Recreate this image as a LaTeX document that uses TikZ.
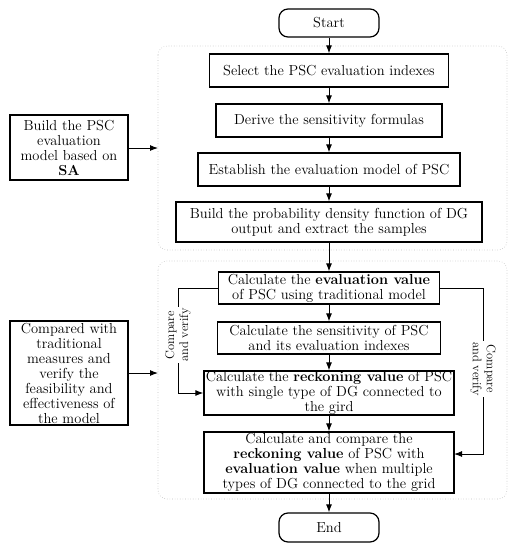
\documentclass[tikz,border=0pt]{standalone}
\usetikzlibrary{arrows.meta}
\begin{document}
\begin{tikzpicture}[x=1pt,y=-1pt,
  every node/.style={font=\fontsize{14.5}{15}\selectfont, align=center, inner sep=0pt},
  proc/.style={draw, line width=1.2pt, fill=white},
  term/.style={draw, line width=1.2pt, rounded corners=9pt, minimum width=100pt},
  grp/.style={draw=gray!50, dotted, line width=0.6pt, rounded corners=9pt},
  arr/.style={line width=1pt, -{Latex[length=8pt,width=6pt]}},
  lbl/.style={fill=white, font=\fontsize{12.5}{14}\selectfont, inner sep=1pt}]
\useasboundingbox (0,0) rectangle (515,550);
% containers
\draw[grp] (158,46) rectangle (507,250);
\draw[grp] (158,261) rectangle (507,499);
% terminals
\node[term, minimum height=28pt] (start) at (329,23) {Start};
\node[term, minimum height=29pt] (end) at (329,527.5) {End};
% upper group
\node[proc, minimum width=239pt, minimum height=33pt] (b1) at (329,70.5) {Select the PSC evaluation indexes};
\node[proc, minimum width=226pt, minimum height=33pt] (b2) at (329,120.5) {Derive the sensitivity formulas};
\node[proc, minimum width=262pt, minimum height=33pt] (b3) at (329,169.5) {Establish the evaluation model of PSC};
\node[proc, minimum width=306pt, minimum height=40pt] (b4) at (329,222) {Build the probability density function of DG\\output and extract the samples};
% lower group
\node[proc, minimum width=221pt, minimum height=32pt] (b5) at (329,288) {Calculate the \textbf{evaluation value}\\of PSC using traditional model};
\node[proc, minimum width=223pt, minimum height=32pt] (b6) at (329,338) {Calculate the sensitivity of PSC\\and its evaluation indexes};
\node[proc, minimum width=250pt, minimum height=44pt] (b7) at (329,393) {Calculate the \textbf{reckoning value} of PSC\\with single type of DG connected to\\the gird};
\node[proc, minimum width=250pt, minimum height=61pt] (b8) at (329,462.5) {Calculate and compare the\\\textbf{reckoning value} of PSC with\\\textbf{evaluation value} when multiple\\types of DG connected to the grid};
% left boxes
\node[proc, minimum width=118pt, minimum height=65pt] (l1) at (69,147.5) {Build the PSC\\evaluation\\model based on\\\textbf{SA}};
\node[proc, minimum width=118pt, minimum height=104pt] (l2) at (69,373) {Compared with\\traditional\\measures and\\verify the\\feasibility and\\effectiveness of\\the model};
\coordinate (g1) at (158,148);
\coordinate (g2) at (158,373);
% main flow
\draw[arr] (start) -- (b1);
\draw[arr] (b1) -- (b2);
\draw[arr] (b2) -- (b3);
\draw[arr] (b3) -- (b4);
\draw[arr] (b4) -- (b5);
\draw[arr] (b5) -- (b6);
\draw[arr] (b6) -- (b7);
\draw[arr] (b7) -- (b8);
\draw[arr] (b8) -- (end);
\draw[arr] (l1.east |- g1) -- (g1);
\draw[arr] (l2.east |- g2) -- (g2);
% compare loops
\coordinate (cl) at (178,0);
\coordinate (cr) at (483,0);
\draw[arr] (b5.west) -- (cl |- b5.west) -- (cl |- b7.west) -- (b7.west);
\coordinate (b8in) at (454,454);
\draw[arr] (b5.east) -- (cr |- b5.east) -- (cr |- b8in) -- (b8in);
\node[lbl, rotate=90] (cv1) at (178,335) {Compare\\and verify};
\node[lbl, rotate=-90] (cv2) at (483,369) {Compare\\and verify};
\end{tikzpicture}
\end{document}
